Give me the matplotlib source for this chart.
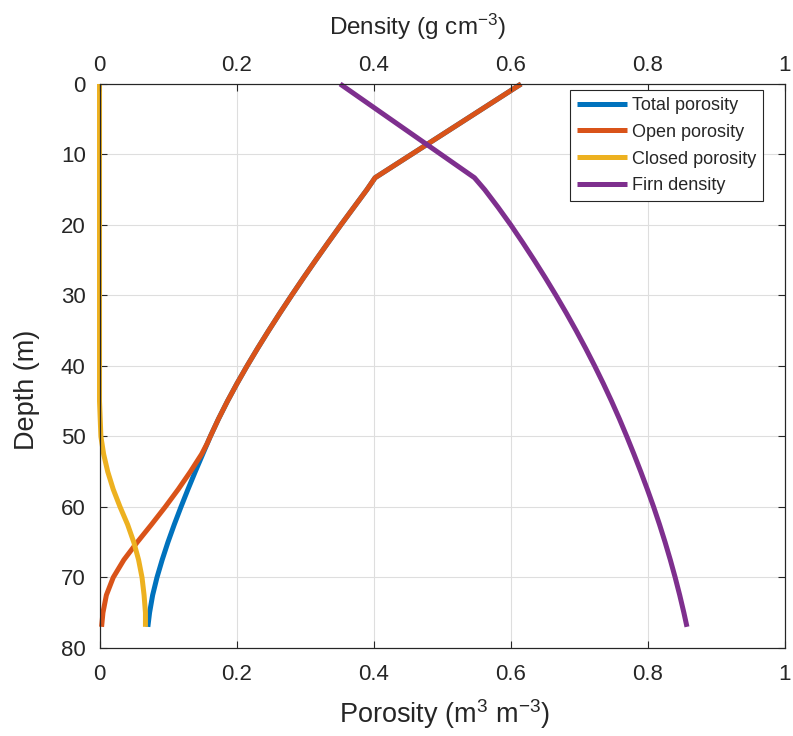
import matplotlib
matplotlib.use("Agg")
import matplotlib.pyplot as plt
from matplotlib.lines import Line2D

plt.rcParams['font.family'] = ['Liberation Sans', 'DejaVu Sans']
plt.rcParams['mathtext.fontset'] = 'custom'
plt.rcParams['mathtext.rm'] = 'Liberation Sans'
plt.rcParams['mathtext.default'] = 'regular'

# Firn profile: depth (m) vs porosity (m3 m-3) and density (g cm-3)
# Above ~50 m all pores are open, so total and open porosity share one profile.
depth_upper = [0, 13.3, 15, 17.5, 20, 22.5, 25, 27.5, 30, 32.5, 35, 37.5,
               40, 42.5, 45, 47.5, 50]
porosity_upper = [0.615, 0.402, 0.390, 0.371, 0.352, 0.3335, 0.3153, 0.2975,
                  0.2801, 0.2631, 0.2466, 0.2306, 0.2152, 0.2005, 0.1866,
                  0.1736, 0.1616]

depth_lower = [51, 52.5, 55, 57.5, 60, 62.5, 65, 67.5, 70, 72.5, 75, 77]
total_lower = [0.1572, 0.1506, 0.1396, 0.1290, 0.1188, 0.1090, 0.0998,
               0.0914, 0.0838, 0.0775, 0.0730, 0.0705]
open_lower = [0.157, 0.149, 0.1325, 0.1148, 0.0958, 0.0757, 0.0550, 0.0355,
              0.0200, 0.0100, 0.0050, 0.0030]

depth_closed = [0, 45, 47.5, 50, 52.5, 55, 57.5, 60, 62.5, 65, 67.5, 70,
                72.5, 75, 77]
closed_porosity = [0, 0, 0.001, 0.002, 0.006, 0.012, 0.020, 0.030, 0.041,
                   0.050, 0.057, 0.062, 0.065, 0.067, 0.067]

depth_density = [0, 13.3, 15, 17.5, 20, 22.5, 25, 27.5, 30, 32.5, 35, 37.5,
                 40, 42.5, 45, 47.5, 50, 52.5, 55, 57.5, 60, 62.5, 65, 67.5,
                 70, 72.5, 75, 77]
firn_density = [0.351, 0.547, 0.562, 0.5815, 0.600, 0.6174, 0.6342, 0.6504,
                0.6660, 0.6810, 0.6954, 0.7092, 0.7224, 0.7350, 0.7470,
                0.7584, 0.7692, 0.7796, 0.7896, 0.7992, 0.8084, 0.8170,
                0.8251, 0.8327, 0.8398, 0.8464, 0.8525, 0.8570]

total_depth = depth_upper + depth_lower
total_porosity = porosity_upper + total_lower
open_depth = depth_upper + depth_lower
open_porosity = porosity_upper + open_lower

x_ticks = [0, 0.2, 0.4, 0.6, 0.8, 1]
x_tick_labels = ['0', '0.2', '0.4', '0.6', '0.8', '1']
y_ticks = [0, 10, 20, 30, 40, 50, 60, 70, 80]

labels = ['Total porosity', 'Open porosity', 'Closed porosity', 'Firn density']
colors = ['#0072BD', '#D95319', '#EDB120', '#7E2F8E']

ink = '#262626'
lw = 3.6

fig = plt.figure(figsize=(7.93, 7.36), dpi=100)
ax = fig.add_axes([0.1255, 0.1196, 0.8644, 0.7663])

line_kw = dict(lw=lw, solid_capstyle='butt', solid_joinstyle='round', clip_on=False)
ax.plot(total_porosity, total_depth, color=colors[0], **line_kw)
ax.plot(open_porosity, open_depth, color=colors[1], **line_kw)
ax.plot(closed_porosity, depth_closed, color=colors[2], **line_kw)

ax.set_xlim(0, 1)
ax.set_ylim(80, 0)
ax.set_xticks(x_ticks)
ax.set_xticklabels(x_tick_labels)
ax.set_yticks(y_ticks)
ax.grid(True, color='#dedede', lw=0.8)
ax.set_axisbelow(True)
ax.tick_params(axis='both', direction='in', length=5, width=0.8, color=ink,
               labelcolor=ink, labelsize=16)
ax.tick_params(axis='x', pad=11.5)
ax.tick_params(axis='y', pad=10, right=True)
for s in ax.spines.values():
    s.set_color(ink)
    s.set_linewidth(0.8)

xlab = ax.set_xlabel(r'Porosity (m$^{3}$ m$^{-3}$)', fontsize=19.5, color=ink)
xlab.set_va('baseline')
ax.xaxis.set_label_coords(444 / 793, 1 - 723 / 736, transform=fig.transFigure)

ylab = ax.set_ylabel('Depth (m)', fontsize=19.5, color=ink)
ylab.set_va('center')
ax.yaxis.set_label_coords(27 / 793, 1 - 390 / 736, transform=fig.transFigure)

ax2 = ax.twiny()
ax2.plot(firn_density, depth_density, color=colors[3], **line_kw)
ax2.set_xlim(0, 1)
ax2.set_xticks(x_ticks)
ax2.set_xticklabels(x_tick_labels)
ax2.tick_params(axis='x', direction='in', length=5, width=0.8, color=ink,
                labelcolor=ink, labelsize=16, pad=6)
for s in ax2.spines.values():
    s.set_color(ink)
    s.set_linewidth(0.8)

tlab = ax2.set_xlabel(r'Density (g cm$^{-3}$)', fontsize=17.5, color=ink)
tlab.set_va('baseline')
ax2.xaxis.set_label_coords(417 / 793, 1 - 35 / 736, transform=fig.transFigure)

handles = [Line2D([], [], color=c, lw=lw, solid_capstyle='butt') for c in colors]
leg = ax2.legend(handles, labels, loc='upper right', fontsize=13,
                 bbox_to_anchor=(0.968, 0.989), borderaxespad=0,
                 handlelength=2.8, handletextpad=0.25, labelspacing=0.54,
                 borderpad=0.38, fancybox=False, framealpha=1,
                 edgecolor=ink)
leg.get_frame().set_linewidth(0.8)
for t in leg.get_texts():
    t.set_color(ink)

fig.savefig('out.png', dpi=100)
